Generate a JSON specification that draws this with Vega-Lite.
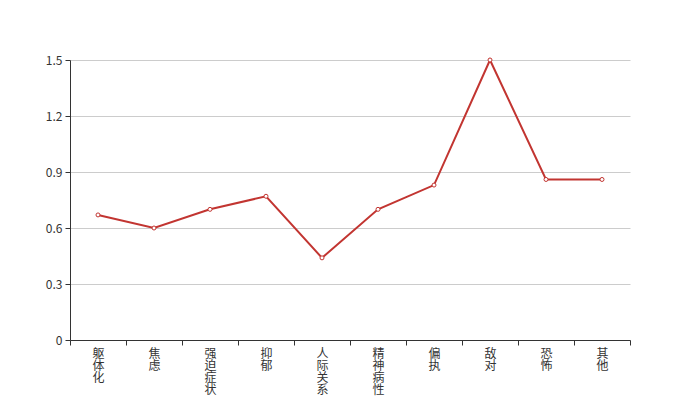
{
  "$schema": "https://vega.github.io/schema/vega-lite/v6.json",
  "width": 560,
  "height": 280,
  "autosize": "none",
  "padding": {"left": 70, "top": 60, "right": 70, "bottom": 60},
  "background": "white",
  "config": {
    "view": {"stroke": null},
    "font": "Noto Sans CJK SC"
  },
  "data": {
    "values": [
      {"factor": "躯体化", "value": 0.67},
      {"factor": "焦虑", "value": 0.60},
      {"factor": "强迫症状", "value": 0.70},
      {"factor": "抑郁", "value": 0.77},
      {"factor": "人际关系", "value": 0.44},
      {"factor": "精神病性", "value": 0.70},
      {"factor": "偏执", "value": 0.83},
      {"factor": "敌对", "value": 1.50},
      {"factor": "恐怖", "value": 0.86},
      {"factor": "其他", "value": 0.86}
    ]
  },
  "encoding": {
    "x": {
      "field": "factor",
      "type": "nominal",
      "sort": null,
      "scale": {"paddingInner": 0, "paddingOuter": 0},
      "axis": {
        "title": null,
        "labelAngle": 0,
        "labelExpr": "split(datum.label, '')",
        "labelLineHeight": 12,
        "labelFontSize": 12,
        "labelColor": "#333",
        "labelPadding": 3,
        "labelBaseline": "top",
        "domainColor": "#333",
        "tickColor": "#333",
        "tickSize": 5,
        "tickBand": "extent",
        "grid": false
      }
    },
    "y": {
      "field": "value",
      "type": "quantitative",
      "scale": {"domain": [0, 1.5], "nice": false},
      "axis": {
        "title": null,
        "values": [0, 0.3, 0.6, 0.9, 1.2, 1.5],
        "format": "~g",
        "labelFontSize": 12,
        "labelColor": "#333",
        "labelPadding": 3,
        "domainColor": "#333",
        "tickColor": "#333",
        "tickSize": 5,
        "gridColor": "#ccc",
        "grid": true
      }
    }
  },
  "layer": [
    {
      "mark": {"type": "line", "color": "#c23531", "strokeWidth": 2}
    },
    {
      "mark": {"type": "point", "shape": "circle", "filled": true, "fill": "white", "stroke": "#c23531", "strokeWidth": 1, "size": 16, "opacity": 1}
    }
  ]
}
